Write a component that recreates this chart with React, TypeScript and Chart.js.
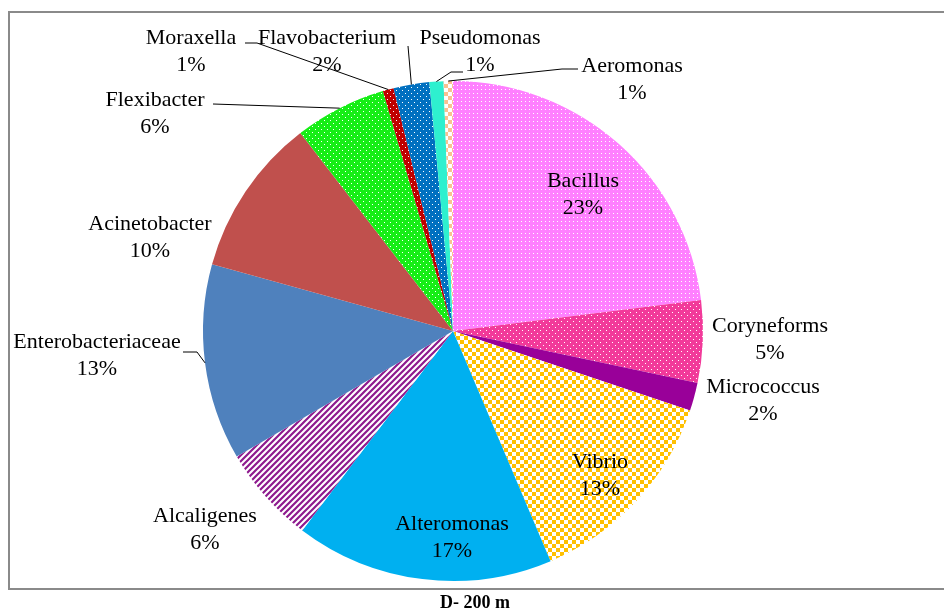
import { useEffect, useRef } from 'react';
import { Chart, registerables } from 'chart.js';

Chart.register(...registerables);

// ---- data ----
const categories = [
  'Bacillus',
  'Coryneforms',
  'Micrococcus',
  'Vibrio',
  'Alteromonas',
  'Alcaligenes',
  'Enterobacteriaceae',
  'Acinetobacter',
  'Flexibacter',
  'Moraxella',
  'Flavobacterium',
  'Pseudomonas',
  'Aeromonas',
];
const shares = [22.9, 5.3, 1.8, 13.4, 16.6, 6.3, 12.6, 10.2, 5.9, 0.7, 2.3, 0.9, 0.6];
const chartTitle = 'D- 200 m';

// ---- styles ----
type Fill = { kind: 'solid' | 'dense' | 'dots' | 'checker' | 'stripes'; color: string };
const fills: Fill[] = [
  { kind: 'dense', color: '#FF80FF' },
  { kind: 'dots', color: '#F23A9A' },
  { kind: 'solid', color: '#990099' },
  { kind: 'checker', color: '#FFC000' },
  { kind: 'solid', color: '#00B0F0' },
  { kind: 'stripes', color: '#8E1A8E' },
  { kind: 'solid', color: '#4F81BD' },
  { kind: 'solid', color: '#C0504D' },
  { kind: 'dots', color: '#16EE16' },
  { kind: 'dots', color: '#C00000' },
  { kind: 'dots', color: '#0070C0' },
  { kind: 'solid', color: '#2EF0CF' },
  { kind: 'checker', color: '#FAC090' },
];

// label block centres (first line) and leader-line starting points
type LabelPos = { x: number; y: number; leader?: number[][] };
const labelLayout: LabelPos[] = [
  { x: 583, y: 181 },
  { x: 770, y: 326 },
  { x: 763, y: 387 },
  { x: 600, y: 462 },
  { x: 452, y: 524 },
  { x: 205, y: 516 },
  { x: 97, y: 342, leader: [[183, 352], [197, 352]] },
  { x: 150, y: 224 },
  { x: 155, y: 100, leader: [[213, 104]] },
  { x: 191, y: 38, leader: [[245, 43], [257, 43]] },
  { x: 327, y: 38, leader: [[408, 46]] },
  { x: 480, y: 38, leader: [[463, 72], [451, 72]] },
  { x: 632, y: 66, leader: [[578, 69], [562, 69]] },
];

const FONT = '"Liberation Serif", "Times New Roman", serif';

function makePattern(f: Fill): CanvasPattern | string {
  if (f.kind === 'solid') return f.color;
  const c = document.createElement('canvas');
  const ctx = c.getContext('2d')!;
  if (f.kind === 'dense') {
    c.width = 4; c.height = 4;
    ctx.fillStyle = f.color; ctx.fillRect(0, 0, 4, 4);
    ctx.fillStyle = '#ffffff';
    ctx.fillRect(1, 1, 1, 1);
  } else if (f.kind === 'dots') {
    c.width = 6; c.height = 6;
    ctx.fillStyle = f.color; ctx.fillRect(0, 0, 6, 6);
    ctx.fillStyle = '#ffffff';
    ctx.fillRect(0, 0, 1, 1);
    ctx.fillRect(3, 3, 1, 1);
  } else if (f.kind === 'checker') {
    c.width = 8; c.height = 8;
    ctx.fillStyle = '#ffffff'; ctx.fillRect(0, 0, 8, 8);
    ctx.fillStyle = f.color;
    ctx.fillRect(0, 0, 4, 4);
    ctx.fillRect(4, 4, 4, 4);
  } else {
    c.width = 6; c.height = 6;
    ctx.fillStyle = '#ffffff'; ctx.fillRect(0, 0, 6, 6);
    ctx.strokeStyle = f.color;
    ctx.lineWidth = 2.2;
    ctx.beginPath();
    for (let k = -1; k <= 1; k++) {
      ctx.moveTo(-6 + k * 6, 12);
      ctx.lineTo(12 + k * 6, -6);
    }
    ctx.stroke();
  }
  return ctx.createPattern(c, 'repeat')!;
}

const overlayPlugin = {
  id: 'overlay',
  afterDatasetsDraw(chart: any) {
    const ctx: CanvasRenderingContext2D = chart.ctx;
    const meta = chart.getDatasetMeta(0);
    const total = shares.reduce((a, b) => a + b, 0);
    ctx.save();
    ctx.fillStyle = '#000';
    ctx.strokeStyle = '#000';
    ctx.lineWidth = 1;
    ctx.font = `22px ${FONT}`;
    ctx.textAlign = 'center';
    ctx.textBaseline = 'middle';
    meta.data.forEach((arc: any, i: number) => {
      const p = labelLayout[i];
      const pct = Math.round((shares[i] / total) * 100) + '%';
      ctx.fillText(categories[i], p.x, p.y);
      ctx.fillText(pct, p.x, p.y + 27);
      if (p.leader) {
        const mid = (arc.startAngle + arc.endAngle) / 2;
        const ex = arc.x + Math.cos(mid) * arc.outerRadius;
        const ey = arc.y + Math.sin(mid) * arc.outerRadius;
        ctx.beginPath();
        ctx.moveTo(p.leader[0][0], p.leader[0][1]);
        for (let k = 1; k < p.leader.length; k++) ctx.lineTo(p.leader[k][0], p.leader[k][1]);
        ctx.lineTo(ex, ey);
        ctx.stroke();
      }
    });
    ctx.restore();
  },
  afterDraw(chart: any) {
    const ctx: CanvasRenderingContext2D = chart.ctx;
    ctx.save();
    ctx.strokeStyle = '#8A8A8A';
    ctx.lineWidth = 2;
    ctx.strokeRect(9, 12, 960, 577);
    ctx.fillStyle = '#000';
    ctx.font = `bold 18px ${FONT}`;
    ctx.textAlign = 'center';
    ctx.textBaseline = 'middle';
    ctx.fillText(chartTitle, 475, 603);
    ctx.restore();
  },
};

export default function App() {
  const ref = useRef<HTMLCanvasElement>(null);
  useEffect(() => {
    if (!ref.current) return;
    const chart = new Chart(ref.current, {
      type: 'pie',
      data: {
        labels: categories,
        datasets: [
          {
            data: shares,
            backgroundColor: fills.map(makePattern) as any,
            borderWidth: 0,
            hoverOffset: 0,
          },
        ],
      },
      options: {
        responsive: false,
        animation: false,
        devicePixelRatio: 1,
        layout: { padding: { left: 203, right: 241, top: 81, bottom: 31 } },
        plugins: {
          legend: { display: false },
          tooltip: { enabled: false },
          title: { display: false },
        },
        events: [],
      },
      plugins: [overlayPlugin],
    });
    return () => chart.destroy();
  }, []);
  return (
    <div style={{ position: 'absolute', left: 0, top: 0, width: 944, height: 612, background: '#fff' }}>
      <canvas ref={ref} width={944} height={612} style={{ display: 'block' }} />
    </div>
  );
}
